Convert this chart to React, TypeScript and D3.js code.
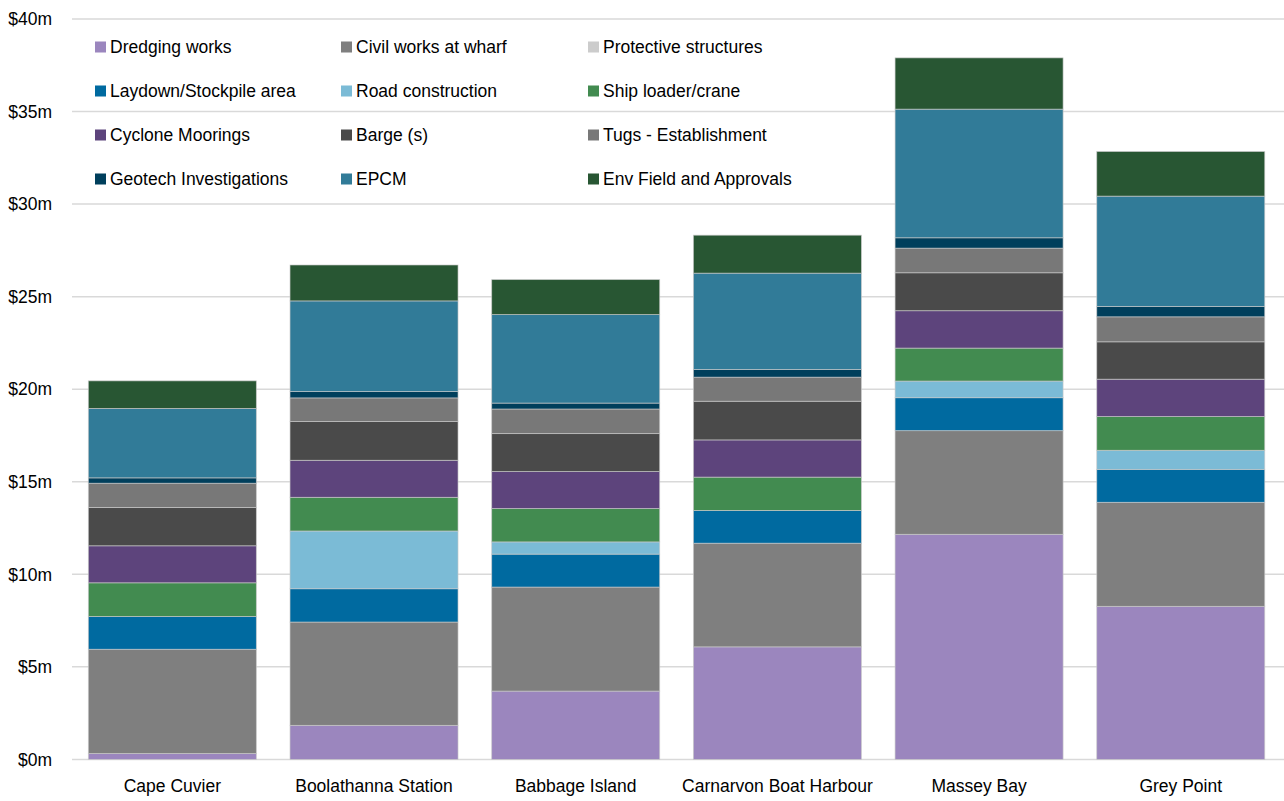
import React, { useMemo } from "react";
import * as d3 from "d3";

// Port site options
const sites = [
  "Cape Cuvier",
  "Boolathanna Station",
  "Babbage Island",
  "Carnarvon Boat Harbour",
  "Massey Bay",
  "Grey Point",
];

// Cost components ($m) per site, stacked bottom to top
const dredgingWorks = [0.32, 1.84, 3.69, 6.08, 12.16, 8.27];
const civilWorksAtWharf = [5.63, 5.58, 5.62, 5.6, 5.6, 5.62];
const protectiveStructures = [0, 0, 0, 0, 0, 0];
const laydownStockpile = [1.77, 1.8, 1.78, 1.77, 1.78, 1.78];
const roadConstruction = [0, 3.12, 0.66, 0, 0.9, 1.03];
const shipLoaderCrane = [1.82, 1.82, 1.8, 1.8, 1.78, 1.82];
const cycloneMoorings = [2.0, 2.0, 2.0, 2.01, 2.02, 2.02];
const barges = [2.07, 2.09, 2.05, 2.09, 2.05, 2.02];
const tugsEstablishment = [1.31, 1.28, 1.33, 1.3, 1.33, 1.35];
const geotechInvestigations = [0.29, 0.34, 0.32, 0.41, 0.56, 0.56];
const epcm = [3.75, 4.9, 4.78, 5.21, 6.95, 5.96];
const envFieldApprovals = [1.49, 1.94, 1.89, 2.05, 2.77, 2.41];

const seriesNames = [
  "Dredging works",
  "Civil works at wharf",
  "Protective structures",
  "Laydown/Stockpile area",
  "Road construction",
  "Ship loader/crane",
  "Cyclone Moorings",
  "Barge (s)",
  "Tugs - Establishment",
  "Geotech Investigations",
  "EPCM",
  "Env Field and Approvals",
];

const seriesValues = [
  dredgingWorks,
  civilWorksAtWharf,
  protectiveStructures,
  laydownStockpile,
  roadConstruction,
  shipLoaderCrane,
  cycloneMoorings,
  barges,
  tugsEstablishment,
  geotechInvestigations,
  epcm,
  envFieldApprovals,
];

const seriesColors = [
  "#9b86be",
  "#7f7f7f",
  "#cccccc",
  "#006aa0",
  "#7bbbd6",
  "#428b50",
  "#5d447c",
  "#4a4a4a",
  "#787878",
  "#003f5c",
  "#317b98",
  "#285633",
];

const yTicks = [0, 5, 10, 15, 20, 25, 30, 35, 40];

const W = 1284;
const H = 801;
const FONT = "'Liberation Sans', Arial, sans-serif";

export default function App() {
  const x = useMemo(
    () =>
      d3
        .scaleBand<string>()
        .domain(sites)
        .range([71.5, 1281.6])
        .paddingInner(0.167)
        .paddingOuter(0.0835),
    []
  );
  const y = useMemo(
    () => d3.scaleLinear().domain([0, 40]).range([759.4, 19]),
    []
  );

  const rows = sites.map((site, i) => {
    const r: Record<string, any> = { site };
    seriesNames.forEach((n, s) => (r[n] = seriesValues[s][i]));
    return r;
  });
  const stacked = d3.stack<any>().keys(seriesNames)(rows);

  const legendCols = [95, 341, 588];
  const legendRowY = (r: number) => 47 + r * 44;

  return (
    <svg
      width={W}
      height={H}
      style={{ position: "absolute", left: 0, top: 0, background: "#fff" }}
      fontFamily={FONT}
    >
      {/* gridlines and value axis labels */}
      {yTicks.map((t) => (
        <g key={t}>
          <line
            x1={72}
            x2={W}
            y1={y(t)}
            y2={y(t)}
            stroke="#d9d9d9"
            strokeWidth={1.5}
          />
          <text
            x={52}
            y={y(t) + 6.2}
            textAnchor="end"
            fontSize={17.5}
            fill="#000"
          >
            {`$${t}m`}
          </text>
        </g>
      ))}

      {/* stacked cost bars */}
      {stacked.map((layer, s) => (
        <g key={layer.key} fill={seriesColors[s]}>
          {layer.map((d, i) => {
            const h = y(d[0]) - y(d[1]);
            if (h <= 0) return null;
            return (
              <rect
                key={i}
                x={x(sites[i])}
                y={y(d[1])}
                width={x.bandwidth()}
                height={h}
                stroke="#c9c9c9"
                strokeOpacity={0.8}
                strokeWidth={0.8}
              />
            );
          })}
        </g>
      ))}

      {/* category labels */}
      {sites.map((s) => (
        <text
          key={s}
          x={(x(s) as number) + x.bandwidth() / 2}
          y={792}
          textAnchor="middle"
          fontSize={17.5}
          fill="#000"
        >
          {s}
        </text>
      ))}

      {/* legend: 4 rows x 3 columns */}
      {seriesNames.map((n, k) => {
        const col = k % 3;
        const row = Math.floor(k / 3);
        const cy = legendRowY(row);
        return (
          <g key={n}>
            <rect
              x={legendCols[col]}
              y={cy - 5.5}
              width={11}
              height={11}
              fill={seriesColors[k]}
            />
            <text
              x={legendCols[col] + 15}
              y={cy + 6.2}
              fontSize={17.5}
              fill="#000"
            >
              {n}
            </text>
          </g>
        );
      })}
    </svg>
  );
}
